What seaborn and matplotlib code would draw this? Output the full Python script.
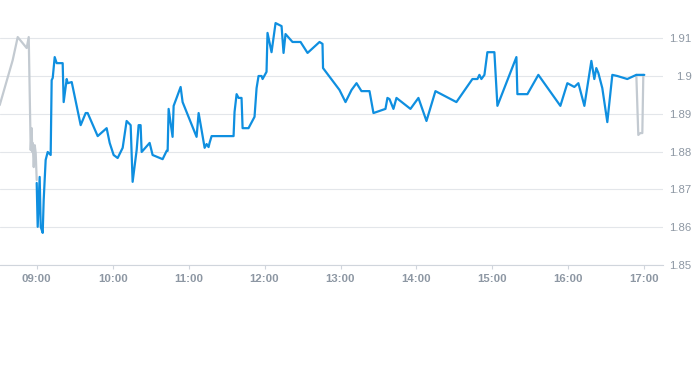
import matplotlib
matplotlib.use("Agg")
import matplotlib.pyplot as plt
import seaborn as sns
import pandas as pd

# time in decimal hours
pre_time = [8.513, 8.684, 8.750, 8.868, 8.895, 8.921, 8.934, 8.941, 8.947, 8.961, 8.974, 8.987, 9.0]
pre_price = [1.8923, 1.9042, 1.9103, 1.9074, 1.9103, 1.8804, 1.8862, 1.8799, 1.8823, 1.8759, 1.8817, 1.8796, 1.8725]

reg_time = [9.000, 9.013, 9.039, 9.053, 9.079, 9.092, 9.118, 9.145, 9.184, 9.197, 9.211, 9.237, 9.263,
            9.342, 9.355, 9.395, 9.408, 9.461, 9.579, 9.645, 9.671, 9.803, 9.921, 9.961, 10.013, 10.066,
            10.132, 10.184, 10.237, 10.263, 10.316, 10.342, 10.368, 10.382, 10.487, 10.526, 10.658, 10.711,
            10.724, 10.737, 10.789, 10.803, 10.842, 10.895, 10.921, 11.105, 11.132, 11.171, 11.211, 11.237,
            11.263, 11.276, 11.303, 11.592, 11.605, 11.632, 11.658, 11.697, 11.711, 11.789, 11.868, 11.895,
            11.921, 11.961, 11.974, 12.026, 12.039, 12.092, 12.145, 12.224, 12.250, 12.276, 12.368, 12.474,
            12.566, 12.724, 12.763, 12.770, 12.987, 13.066, 13.145, 13.211, 13.276, 13.382, 13.434, 13.592,
            13.618, 13.645, 13.697, 13.737, 13.921, 14.026, 14.132, 14.250, 14.526, 14.737, 14.803, 14.829,
            14.855, 14.895, 14.934, 15.026, 15.066, 15.316, 15.329, 15.461, 15.605, 15.895, 15.987, 16.079,
            16.132, 16.211, 16.303, 16.342, 16.368, 16.395, 16.447, 16.513, 16.579, 16.645, 16.776, 16.895,
            17.000]
reg_price = [1.8717, 1.8601, 1.8733, 1.8601, 1.8585, 1.8672, 1.8778, 1.8799, 1.8791, 1.8989, 1.8995, 1.9050, 1.9034,
             1.9034, 1.8931, 1.8992, 1.8981, 1.8984, 1.8870, 1.8902, 1.8902, 1.8841, 1.8862, 1.8823, 1.8791, 1.8783,
             1.8810, 1.8881, 1.8870, 1.8720, 1.8804, 1.8870, 1.8870, 1.8799, 1.8823, 1.8791, 1.8780, 1.8802,
             1.8802, 1.8913, 1.8839, 1.8921, 1.8942, 1.8971, 1.8931, 1.8839, 1.8902, 1.8857, 1.8810, 1.8820,
             1.8812, 1.8823, 1.8841, 1.8841, 1.8905, 1.8952, 1.8942, 1.8942, 1.8862, 1.8862, 1.8892, 1.8968,
             1.9000, 1.9000, 1.8992, 1.9011, 1.9114, 1.9063, 1.9140, 1.9132, 1.9061, 1.9111, 1.9090, 1.9090,
             1.9061, 1.9090, 1.9085, 1.9021, 1.8963, 1.8931, 1.8963, 1.8981, 1.8960, 1.8960, 1.8902, 1.8913,
             1.8942, 1.8939, 1.8913, 1.8942, 1.8913, 1.8942, 1.8881, 1.8960, 1.8931, 1.8992, 1.8992, 1.9003,
             1.8992, 1.9003, 1.9063, 1.9063, 1.8921, 1.9050, 1.8952, 1.8952, 1.9003, 1.8921, 1.8981, 1.8971,
             1.8981, 1.8921, 1.9040, 1.8992, 1.9021, 1.9008, 1.8968, 1.8878, 1.9003, 1.9000, 1.8992, 1.9003,
             1.9003]

post_time = [16.895, 16.921, 16.947, 16.974, 16.987]
post_price = [1.9003, 1.8844, 1.8849, 1.8849, 1.9003]

x_ticks = [9, 10, 11, 12, 13, 14, 15, 16, 17]
x_labels = ["09:00", "10:00", "11:00", "12:00", "13:00", "14:00", "15:00", "16:00", "17:00"]
y_ticks = [1.85, 1.86, 1.87, 1.88, 1.89, 1.90, 1.91]
y_labels = ["1.85", "1.86", "1.87", "1.88", "1.89", "1.9", "1.91"]

sns.set_theme(style="white")
plt.rcParams['font.family'] = ['Liberation Sans', 'DejaVu Sans']

fig = plt.figure(figsize=(6.93, 3.65), dpi=100)
ax = fig.add_axes([0.0, 1 - 265 / 365, 663 / 693, (265 - 9.5) / 365])

pre = pd.DataFrame({"t": pre_time, "p": pre_price})
reg = pd.DataFrame({"t": reg_time, "p": reg_price})
post = pd.DataFrame({"t": post_time, "p": post_price})

gray = "#c3cad1"
blue = "#0f8fe0"
sns.lineplot(data=pre, x="t", y="p", ax=ax, color=gray, lw=1.6, estimator=None, sort=False)
sns.lineplot(data=post, x="t", y="p", ax=ax, color=gray, lw=1.6, estimator=None, sort=False)
sns.lineplot(data=reg, x="t", y="p", ax=ax, color=blue, lw=1.6, estimator=None, sort=False)

ax.set_xlim(9 - 36.7 / 75.95, 17 + 18.7 / 75.95)
ax.set_ylim(1.85, 1.85 + (265 - 9.5) / 3780)

ax.set_xticks(x_ticks)
ax.set_xticklabels(x_labels, fontsize=8.2, fontweight="bold", color="#8d97a3")
ax.set_yticks(y_ticks)
ax.set_yticklabels(y_labels, fontsize=8.2, color="#8d97a3", ha="right")
ax.yaxis.tick_right()
ax.tick_params(axis="y", length=0, pad=20.5)
ax.tick_params(axis="x", length=3, width=0.8, color="#d0d5dc", pad=3.5, bottom=True)

ax.grid(axis="y", color="#e3e6ea", lw=0.8)
ax.grid(axis="x", visible=False)
for s in ["top", "right", "left"]:
    ax.spines[s].set_visible(False)
ax.spines["bottom"].set_color("#d0d5dc")
ax.spines["bottom"].set_linewidth(0.8)
ax.set_xlabel("")
ax.set_ylabel("")

fig.savefig("out.png", dpi=100)
